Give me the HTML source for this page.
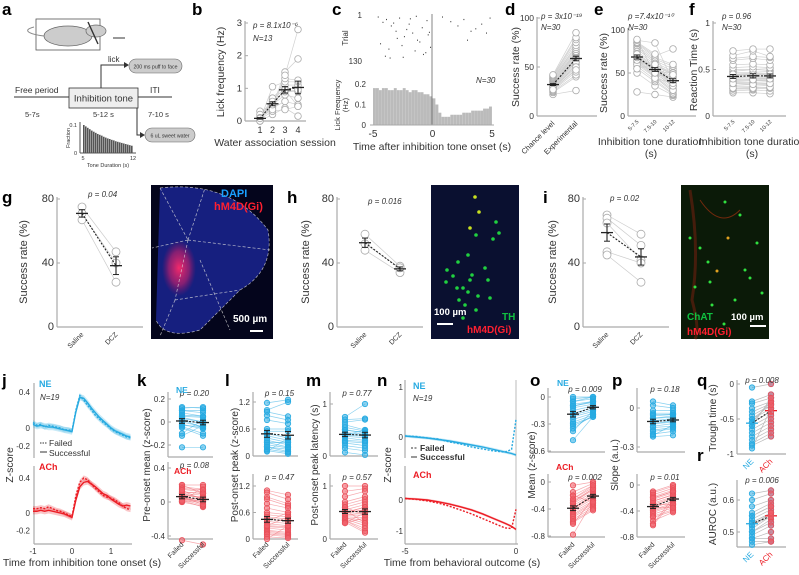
<!DOCTYPE html>
<html><head><meta charset="utf-8"><style>
html,body{margin:0;padding:0;background:#fff}
svg text{font-family:"Liberation Sans",sans-serif}
.L{font-size:17px;font-weight:bold;fill:#000}
.p{font-style:italic;font-size:8px}
</style></head><body>
<svg id="fig" width="799" height="570" viewBox="0 0 799 570" xmlns="http://www.w3.org/2000/svg">
<defs>
<radialGradient id="redblob" cx="0.5" cy="0.5" r="0.5"><stop offset="0" stop-color="#ff2a6a" stop-opacity="0.95"/><stop offset="0.6" stop-color="#d0206a" stop-opacity="0.6"/><stop offset="1" stop-color="#a01060" stop-opacity="0"/></radialGradient>
</defs>
<rect x="0" y="0" width="799" height="570" fill="#fff"/>
</svg>
<script>
// ---------- data ----------
const bSessions=['1','2','3','4'];
const bS1=[0,0.05,0.1,0.3,0,0.05,0.1,0.02,0.2,0.05,0.1,0,0.08];
const bS2=[0.2,0.3,0.4,0.5,0.6,0.65,0.7,1.05,0.55,0.45,0.35,0.6,0.5];
const bS3=[0.4,0.35,0.6,0.8,0.9,1.0,1.1,1.2,1.3,1.5,1.4,0.9,0.95];
const bS4=[0.15,0.45,0.5,0.7,0.9,1.0,1.1,1.2,1.25,1.9,2.8,0.95,0.45];
const cHist=[0.18,0.18,0.17,0.18,0.18,0.17,0.17,0.18,0.17,0.17,0.18,0.17,0.16,0.17,0.17,0.16,0.16,0.15,0.15,0.14,0.13,0.1,0.06,0.04,0.04,0.04,0.05,0.05,0.05,0.05,0.06,0.06,0.06,0.07,0.07,0.07,0.07,0.08,0.08,0.09];
const rasterT=[-4.6,-4.2,-3.9,-3.5,-3.1,-2.8,-2.4,-2.0,-1.7,-1.3,-0.9,-0.5,-0.2,-4.4,-3.7,-3.0,-2.2,-1.5,-0.8,-0.4,-4.0,-3.3,-2.6,-1.9,-1.1,-0.6,-3.6,-2.5,-1.4,-0.3,0.8,1.5,2.1,2.6,3.2,3.6,4.1,4.5,4.8,2.9];
const rasterTrial=[5,20,12,30,45,8,60,25,50,70,35,15,90,80,95,65,40,100,110,55,115,22,85,10,75,105,120,118,3,48,5,18,30,12,45,38,25,50,8,70];
const aHist=[0.1,0.095,0.09,0.085,0.08,0.076,0.072,0.068,0.065,0.062,0.058,0.055,0.052,0.05,0.047,0.045,0.042,0.04,0.038,0.036,0.034,0.032,0.03,0.028,0.026];
const dChance=[22,24,25,26,27,28,28,29,30,30,31,31,32,32,33,33,34,35,35,36,37,38,38,39,40,41,42,30,29,27];
const dExp=[26,40,42,45,48,50,52,53,55,56,57,58,58,60,60,62,63,64,65,66,68,70,72,75,78,80,85,55,50,47];
const eCats=['5-7.5','7.5-10','10-12'];
const e1=[28,50,55,58,60,62,63,64,65,66,67,68,70,70,72,73,75,78,80,82,84,85,86,88,89,60,65,68,72,55];
const e2=[25,35,40,42,45,46,48,50,50,52,53,54,55,55,56,58,60,62,64,66,68,70,72,85,48,52,56,44,50,60];
const e3=[22,24,25,26,28,30,32,34,35,36,38,40,42,44,46,48,50,52,55,58,60,78,30,40,45,50,35,38,42,48];
const f1=[0.25,0.27,0.29,0.3,0.32,0.33,0.35,0.36,0.37,0.38,0.39,0.4,0.41,0.42,0.43,0.44,0.45,0.47,0.48,0.5,0.52,0.55,0.6,0.62,0.65,0.7,0.3,0.35,0.4,0.45];
const f2=[0.25,0.28,0.29,0.31,0.32,0.34,0.35,0.36,0.38,0.38,0.4,0.4,0.42,0.42,0.44,0.45,0.46,0.47,0.5,0.5,0.53,0.56,0.62,0.64,0.7,0.72,0.3,0.34,0.39,0.44];
const f3=[0.24,0.27,0.3,0.3,0.33,0.34,0.35,0.37,0.38,0.39,0.4,0.41,0.41,0.43,0.44,0.45,0.46,0.48,0.49,0.51,0.52,0.55,0.6,0.63,0.64,0.72,0.31,0.35,0.4,0.45];
const gSal=[75,67,71], gDcz=[47,28,40];
const hSal=[58,48,52], hDcz=[38,34,37];
const iSal=[70,68,65,47,45], iDcz=[58,51,42,40,28];
const tJ=[-1,-0.9,-0.8,-0.7,-0.6,-0.5,-0.4,-0.3,-0.2,-0.1,0,0.1,0.2,0.3,0.4,0.5,0.6,0.7,0.8,0.9,1.0,1.1,1.2,1.3,1.4,1.5];
const neSuccJ=[0.04,0.02,0.03,0.02,0.01,0.01,0.0,-0.01,-0.02,-0.03,-0.04,0.18,0.34,0.33,0.28,0.22,0.17,0.12,0.08,0.04,0.0,-0.03,-0.05,-0.07,-0.09,-0.1];
const neFailJ=[0.06,0.03,0.04,0.01,0.03,0.02,0.01,0.0,-0.02,-0.02,-0.03,0.2,0.36,0.31,0.25,0.2,0.14,0.1,0.06,0.03,-0.01,-0.04,-0.06,-0.08,-0.1,-0.11];
const achSuccJ=[0.02,0.02,0.03,0.02,0.03,0.02,0.01,0.0,-0.01,-0.03,-0.05,0.15,0.3,0.35,0.36,0.33,0.3,0.26,0.22,0.2,0.16,0.13,0.1,0.08,0.09,0.08];
const achFailJ=[0.05,0.05,0.06,0.05,0.07,0.05,0.03,0.02,0.0,-0.02,-0.04,0.2,0.35,0.4,0.38,0.33,0.28,0.24,0.2,0.18,0.17,0.15,0.12,0.08,0.05,0.04];
const kNeF=[0.13,0.1,0.08,0.05,0.03,0.02,0,-0.02,-0.04,-0.05,0.12,0.1,0.06,-0.1,-0.12,0.02,0.04,-0.22,-0.03];
const kNeS=[0.12,0.1,0.05,0.04,0,-0.02,-0.04,-0.06,-0.1,-0.12,0.13,0.08,0.05,0.02,-0.03,-0.05,0.0,-0.22,-0.04];
const kAchF=[0.2,0.18,0.15,0.12,0.1,0.08,0.06,0.05,0.04,0.03,0.02,0,0.2,0.16,0.1,0.05,0,0.08,0.12,0.14,0.06,0.02,0.01,-0.45];
const kAchS=[0.2,0.15,0.12,0.1,0.08,0.05,0.02,0,-0.02,-0.04,-0.06,0.18,0.1,0.14,0.04,0.0,-0.05,0.06,0.1,0.02,-0.03,0.05,0.01,-0.5];
const lNeF=[1.18,1.02,0.98,0.9,0.8,0.6,0.55,0.5,0.45,0.4,0.35,0.3,0.25,0.2,0.2,0.15,0.12,0.1,0.3];
const lNeS=[1.25,1.2,0.88,0.8,0.72,0.6,0.55,0.4,0.35,0.3,0.25,0.2,0.18,0.15,0.1,0.08,0.05,0.4,0.3];
const lAchF=[1.1,1.05,0.95,0.9,0.8,0.7,0.6,0.55,0.5,0.45,0.4,0.35,0.3,0.28,0.25,0.2,0.18,0.15,0.12,0.1,0.05,0,0.3,0.4];
const lAchS=[1.0,0.9,0.8,0.75,0.7,0.6,0.55,0.5,0.45,0.4,0.35,0.3,0.28,0.25,0.2,0.15,0.12,0.1,0.08,0.05,0.02,0.3,0.5,0.6];
const mNeF=[0.75,0.7,0.65,0.6,0.55,0.5,0.45,0.42,0.4,0.38,0.35,0.3,0.28,0.25,0.2,0.15,0.07,0.4,0.5];
const mNeS=[1.0,0.72,0.7,0.5,0.48,0.45,0.42,0.4,0.38,0.35,0.3,0.28,0.25,0.2,0.15,0.1,0.02,0.5,0.45];
const mAchF=[1.0,0.9,0.8,0.7,0.65,0.6,0.55,0.5,0.5,0.45,0.45,0.42,0.4,0.4,0.38,0.35,0.35,0.32,0.3,0.3,0.5,0.55,0.6,0.48];
const mAchS=[1.0,0.95,0.9,0.8,0.75,0.7,0.65,0.6,0.55,0.5,0.45,0.4,0.35,0.3,0.25,0.2,0.15,0.12,0.4,0.5,0.6,0.3,0.45,0.55];
const tN=[-5,-4.5,-4,-3.5,-3,-2.5,-2,-1.5,-1,-0.5,-0.2,0];
const neSuccN=[0.02,0.0,-0.02,-0.05,-0.08,-0.12,-0.16,-0.2,-0.25,-0.3,-0.33,-0.36];
const neFailN=[0.02,0.01,-0.02,-0.04,-0.1,-0.14,-0.2,-0.24,-0.28,-0.3,-0.25,0.35];
const achSuccN=[0.05,0.03,0,-0.06,-0.13,-0.22,-0.32,-0.45,-0.6,-0.75,-0.85,-0.95];
const achFailN=[0.05,0.02,-0.03,-0.1,-0.2,-0.32,-0.45,-0.6,-0.75,-0.9,-0.92,-0.3];
const oNeF=[0,-0.02,-0.05,-0.08,-0.1,-0.12,-0.15,-0.18,-0.2,-0.22,-0.25,-0.28,-0.3,-0.32,-0.35,-0.38,-0.48,-0.05,-0.1];
const oNeS=[0,0,-0.02,-0.05,-0.06,-0.08,-0.1,-0.12,-0.14,-0.16,-0.18,-0.2,-0.22,-0.22,-0.2,-0.15,-0.22,0,-0.05];
const oAchF=[-0.05,-0.15,-0.2,-0.25,-0.28,-0.3,-0.32,-0.35,-0.38,-0.4,-0.42,-0.45,-0.48,-0.5,-0.52,-0.55,-0.58,-0.6,-0.62,-0.78,-0.3,-0.25,-0.4,-0.2];
const oAchS=[0,-0.02,-0.05,-0.08,-0.1,-0.12,-0.15,-0.18,-0.2,-0.22,-0.25,-0.28,-0.3,-0.32,-0.35,-0.38,-0.4,-0.42,-0.25,-0.28,-0.1,-0.05,-0.2,-0.3];
const pNeF=[0.05,0.02,-0.02,-0.04,-0.06,-0.08,-0.1,-0.1,-0.12,-0.14,-0.15,-0.17,-0.18,-0.2,-0.22,-0.05,-0.08,-0.12,-0.21];
const pNeS=[0.02,0,-0.02,-0.04,-0.05,-0.06,-0.08,-0.1,-0.11,-0.12,-0.14,-0.15,-0.16,-0.18,-0.21,-0.05,-0.07,-0.1,-0.13];
const pAchF=[-0.1,-0.12,-0.15,-0.18,-0.2,-0.22,-0.25,-0.28,-0.3,-0.32,-0.35,-0.38,-0.4,-0.42,-0.45,-0.48,-0.5,-0.55,-0.6,-0.62,-0.3,-0.25,-0.2,-0.35];
const pAchS=[0,-0.02,-0.05,-0.08,-0.1,-0.12,-0.15,-0.18,-0.2,-0.22,-0.25,-0.28,-0.3,-0.32,-0.35,-0.38,-0.4,-0.42,-0.2,-0.25,-0.3,-0.15,-0.1,-0.35];
const qNe=[-0.05,-0.25,-0.28,-0.35,-0.4,-0.45,-0.5,-0.55,-0.6,-0.65,-0.7,-0.75,-0.8,-0.85,-0.88,-0.92,-0.5,-0.55,-0.6];
const qAch=[0,-0.15,-0.2,-0.25,-0.28,-0.3,-0.35,-0.4,-0.45,-0.5,-0.55,-0.6,-0.65,-0.7,-0.75,-0.35,-0.3,-0.25,-0.2];
const rNe=[0.62,0.6,0.58,0.56,0.55,0.54,0.53,0.52,0.52,0.51,0.5,0.5,0.49,0.48,0.48,0.47,0.46,0.55,0.53];
const rAch=[0.63,0.62,0.6,0.59,0.58,0.57,0.56,0.56,0.55,0.55,0.54,0.53,0.52,0.5,0.48,0.47,0.47,0.58,0.56];

// ---------- helpers ----------
const NS='http://www.w3.org/2000/svg';
const S=document.getElementById('fig');
const BLUE='#27aae1', RED='#ec1c24';
function el(tag,a,name,p){
  const e=document.createElementNS(NS,tag);
  for(const k in a) e.setAttribute(k,a[k]);
  
  
  (p||S).appendChild(e);
  return e;
}
function tx(x,y,s,name,a,p){
  const at=Object.assign({x:x,y:y},a||{});
  if(!at.class){ if(at.fill==null) at.fill='#333'; if(at['font-size']==null) at['font-size']=9; }
  else { if(at.fill==null) at.fill=at.class==='L'?'#000':'#333'; }
  const e=el('text',at,name,p);e.textContent=s;return e;
}
function lin(v0,p0,v1,p1){return v=>p0+(v-v0)*(p1-p0)/(v1-v0);}
function line(x1,y1,x2,y2,name,a,p){return el('line',Object.assign({x1:x1,y1:y1,x2:x2,y2:y2,stroke:'#999','stroke-width':1},a||{}),name,p);}
function yAxis(x,yTop,yBot,ticks,ys,name,fs){
  line(x,yTop,x,yBot,name+'-line',{stroke:'#aaa','stroke-width':1.2});
  ticks.forEach(t=>{
    line(x,ys(t),x+3,ys(t),name+'-tick',{stroke:'#aaa'});
    tx(x-3,ys(t)+3,String(t),name+'-tick-label',{'text-anchor':'end','font-size':fs||8});
  });
}
function xAxis(x0,x1,y,name){line(x0,y,x1,y,name,{stroke:'#aaa','stroke-width':1.2});}
function ylab(x,y,s,name,fs){return tx(x,y,s,name,{'text-anchor':'middle','font-size':fs||10,transform:'rotate(-90 '+x+' '+y+')'});}
function catLabels(xs,labels,y,name,cols,fs){
  xs.forEach((x,i)=>tx(x+2,y,labels[i],name,{'text-anchor':'end','font-size':fs||7,fill:cols?cols[i]:'#333',transform:'rotate(-45 '+(x+2)+' '+y+')'}));
}
function mean(a){return a.reduce((s,v)=>s+v,0)/a.length;}
function sem(a){const m=mean(a);return Math.sqrt(a.reduce((s,v)=>s+(v-m)*(v-m),0)/(a.length-1))/Math.sqrt(a.length);}
function paired(name,xs,ys,groups,st){
  const n=groups[0].length;
  for(let i=0;i<n;i++){
    const pts=groups.map((g,j)=>xs[j]+','+ys(g[i])).join(' ');
    el('polyline',{points:pts,fill:'none',stroke:st.line,'stroke-width':0.7,opacity:st.lineOp||1},name+'-subject-line');
  }
  groups.forEach((g,j)=>g.forEach(v=>{
    el('circle',{cx:xs[j],cy:ys(v),r:st.r,fill:st.fill,'fill-opacity':st.fillOp==null?1:st.fillOp,stroke:st.stroke,'stroke-width':0.8},name+'-point');
  }));
  const ms=groups.map(mean), ss=groups.map(sem);
  el('polyline',{points:ms.map((m,j)=>xs[j]+','+ys(m)).join(' '),fill:'none',stroke:'#222','stroke-width':1.1,'stroke-dasharray':'2,1.5'},name+'-mean-line');
  ms.forEach((m,j)=>{
    const c=st.meanCols?st.meanCols[j]:'#222';
    line(xs[j]-6,ys(m),xs[j]+6,ys(m),name+'-mean',{stroke:c,'stroke-width':1.3});
    line(xs[j],ys(m-ss[j]),xs[j],ys(m+ss[j]),name+'-sem',{stroke:c,'stroke-width':1.1});
    line(xs[j]-3,ys(m-ss[j]),xs[j]+3,ys(m-ss[j]),name+'-sem-cap',{stroke:c,'stroke-width':1});
    line(xs[j]-3,ys(m+ss[j]),xs[j]+3,ys(m+ss[j]),name+'-sem-cap',{stroke:c,'stroke-width':1});
  });
}
const OPEN={r:3.3,fill:'#fff',stroke:'#aaa',line:'#d0d0d0'};
const OPENB={r:4,fill:'#fff',stroke:'#aaa',line:'#ccc'};
const BLU={r:2.7,fill:BLUE,fillOp:0.55,stroke:BLUE,line:BLUE,lineOp:0.55};
const REDS={r:2.7,fill:'#f0606a',fillOp:0.6,stroke:'#e8505a',line:'#f07078',lineOp:0.6};
function letter(x,y,s){tx(x,y,s,'panel-label-'+s,{class:'L'});}

// ---------- panel letters ----------
[['a',2,15],['b',192,15],['c',332,15],['d',505,15],['e',594,15],['f',689,15],['g',2,203],['h',287,203],['i',543,203],['j',2,386],['k',137,386],['l',225,386],['m',306,386],['n',377,386],['o',530,386],['p',612,386],['q',697,386],['r',697,461]].forEach(l=>letter(l[1],l[2],l[0]));

// ---------- panel a: schematic ----------
el('rect',{x:36,y:19,width:64,height:31,fill:'none',stroke:'#555','stroke-width':0.8},'head-fixation-box');
el('ellipse',{cx:68,cy:36,rx:24,ry:10,fill:'#ccc',stroke:'#666','stroke-width':0.7},'rat-body');
el('ellipse',{cx:96,cy:31,rx:10,ry:6,fill:'#ccc',stroke:'#666','stroke-width':0.7},'rat-head');
el('path',{d:'M44,36 C28,34 22,30 34,27',fill:'none',stroke:'#888','stroke-width':1},'rat-tail');
line(88,22,98,44,'head-post',{stroke:'#333','stroke-width':1.4});
line(113,38,125,38,'lick-spout',{stroke:'#333','stroke-width':1});
line(14,97,69,97,'timeline-free',{stroke:'#333'});
el('rect',{x:69,y:88,width:69,height:20,fill:'#eee',stroke:'#333','stroke-width':0.8},'inhibition-tone-box');
tx(103.5,101.5,'Inhibition tone','inhibition-tone-label',{'text-anchor':'middle','font-size':9.5});
line(138,97,172,97,'timeline-iti',{stroke:'#333'});
tx(15,93,'Free period','free-period-label',{'font-size':8.5});
tx(25,117,'5-7s','free-period-duration',{'font-size':7.5});
tx(93,117,'5-12 s','tone-duration',{'font-size':7.5});
tx(150,93,'ITI','iti-label',{'font-size':8.5});
tx(148,117,'7-10 s','iti-duration',{'font-size':7.5});
el('polyline',{points:'101,88 101,65 126,65',fill:'none',stroke:'#333','stroke-width':1},'lick-arrow');
el('path',{d:'M129,65 L124,62 L124,68 Z',fill:'#333'},'lick-arrowhead');
tx(108,62,'lick','lick-label',{'font-size':8});
el('rect',{x:129,y:59,width:53,height:14,rx:7,fill:'#ccc',stroke:'#666','stroke-width':0.6},'puff-pill');
tx(155.5,68.5,'200 ms puff to face','puff-label',{'text-anchor':'middle','font-size':5.2});
el('polyline',{points:'137,108 137,135 141,135',fill:'none',stroke:'#333','stroke-width':1},'reward-arrow');
el('path',{d:'M145,135 L140,132 L140,138 Z',fill:'#333'},'reward-arrowhead');
el('rect',{x:145,y:128,width:50,height:14,rx:7,fill:'#ccc',stroke:'#666','stroke-width':0.6},'reward-pill');
tx(170,137.5,'6 uL sweet water','reward-label',{'text-anchor':'middle','font-size':5.2});
const aX=lin(0,83,25,133), aY=lin(0,153,0.1,125);
line(80,122,80,153,'a-hist-y-axis',{stroke:'#555'});
line(80,153,136,153,'a-hist-x-axis',{stroke:'#555'});
aHist.forEach((v,i)=>el('rect',{x:aX(i),y:aY(v),width:1.6,height:153-aY(v),fill:'#555'},'a-hist-bar'));
tx(77,127,'0.1','a-hist-tick',{'text-anchor':'end','font-size':5.5});
tx(77,155,'0','a-hist-tick',{'text-anchor':'end','font-size':5.5});
tx(83,160,'5','a-hist-tick',{'text-anchor':'middle','font-size':5.5});
tx(133,160,'12','a-hist-tick',{'text-anchor':'middle','font-size':5.5});
tx(108,167,'Tone Duration (s)','a-hist-xlabel',{'text-anchor':'middle','font-size':5.5});
ylab(70,138,'Fraction','a-hist-ylabel',5.5);

// ---------- panel b ----------
const bYs=lin(0,121,3,23), bXs=[260,272.5,285,298];
yAxis(245,21,121,[0,1,2,3],bYs,'b-y-axis',9.5);
xAxis(245,306,121,'b-x-axis');
bXs.forEach((x,i)=>tx(x,133,bSessions[i],'b-x-tick-label',{'text-anchor':'middle','font-size':9}));
paired('b',bXs,bYs,[bS1,bS2,bS3,bS4],OPEN);
tx(253,28,'p = 8.1x10⁻⁶','b-p-value',{class:'p'});
tx(253,41,'N=13','b-n',{class:'p'});
tx(275,146,'Water association session','b-x-title',{'text-anchor':'middle','font-size':10.5});
ylab(224,72,'Lick frequency (Hz)','b-y-title',10.5);

// ---------- panel c ----------
const cX=lin(-5,373,5,492), cTr=lin(1,15,130,61), cY=lin(0,125,0.2,84);
rasterT.forEach((t,i)=>el('rect',{x:cX(t),y:cTr(rasterTrial[i]),width:0.9,height:1.2,fill:'#333'},'c-raster-tick'));
cHist.forEach((v,i)=>el('rect',{x:cX(-5+i*0.25),y:cY(v),width:2.9,height:125-cY(v),fill:'#bbb'},'c-hist-bar'));
line(432,14,432,125,'c-onset-line',{stroke:'#666','stroke-width':0.8});
line(370,125,494,125,'c-x-axis',{stroke:'#aaa'});
tx(362,18,'1','c-trial-tick',{'text-anchor':'end','font-size':8});
tx(362,64,'130','c-trial-tick',{'text-anchor':'end','font-size':8});
ylab(348,38,'Trial','c-trial-title',8);
[[0.2,'0.2'],[0.1,'0.1'],[0,'0']].forEach(t=>tx(366,cY(t[0])+3,t[1],'c-y-tick-label',{'text-anchor':'end','font-size':8}));
ylab(340,105,'Lick Frequency','c-y-title',7.5);
ylab(348,105,'(Hz)','c-y-title-unit',7.5);
[-5,0,5].forEach(t=>tx(cX(t),137,String(t),'c-x-tick-label',{'text-anchor':'middle','font-size':10}));
tx(432,150,'Time after inhibition tone onset (s)','c-x-title',{'text-anchor':'middle','font-size':10.5});
tx(476,83,'N=30','c-n',{class:'p'});

// ---------- panel d ----------
const dYs=lin(0,116,100,18), dXs=[553,576];
yAxis(537,17,116,[0,50,100],dYs,'d-y-axis',8.5);
xAxis(537,597,116,'d-x-axis');
paired('d',dXs,dYs,[dChance,dExp],OPEN);
catLabels(dXs,['Chance level','Experimental'],124,'d-x-tick-label',null,7.5);
tx(541,19,'p = 3x10⁻¹⁹','d-p-value',{class:'p'});
tx(541,30,'N=30','d-n',{class:'p'});
ylab(519,67,'Success rate (%)','d-y-title',10.5);

// ---------- panel e ----------
const eYs=lin(0,116,100,30), eXs=[637,655,673];
yAxis(628,28,116,[0,50,100],eYs,'e-y-axis',8.5);
xAxis(628,696,116,'e-x-axis');
paired('e',eXs,eYs,[e1,e2,e3],OPEN);
catLabels(eXs,eCats,122,'e-x-tick-label',null,5.5);
tx(628,19,'p =7.4x10⁻¹⁰','e-p-value',{class:'p'});
tx(628,30,'N=30','e-n',{class:'p'});
ylab(607,73,'Success rate (%)','e-y-title',10.5);
tx(651,145,'Inhibition tone duration','e-x-title',{'text-anchor':'middle','font-size':10.5});
tx(651,157,'(s)','e-x-title-unit',{'text-anchor':'middle','font-size':10.5});

// ---------- panel f ----------
const fYs=lin(0,116,1,23), fXs=[733,753,770];
yAxis(713,21,116,[0,0.5,1],fYs,'f-y-axis',8.5);
xAxis(713,786,116,'f-x-axis');
paired('f',fXs,fYs,[f1,f2,f3],OPEN);
catLabels(fXs,eCats,122,'f-x-tick-label',null,5.5);
tx(722,19,'p = 0.96','f-p-value',{class:'p'});
tx(722,30,'N=30','f-n',{class:'p'});
ylab(697,70,'Reaction Time (s)','f-y-title',10.5);
tx(752,145,'Inhibition tone duration','f-x-title',{'text-anchor':'middle','font-size':10.5});
tx(752,157,'(s)','f-x-title-unit',{'text-anchor':'middle','font-size':10.5});

// ---------- panels g, h, i ----------
const ghiYs=lin(0,327,80,199);
function drugPlot(nm,x0,xs,sal,dcz,p,px,py,ylx){
  yAxis(x0,197,327,[0,40,80],ghiYs,nm+'-y-axis',11);
  xAxis(x0,x0+86,327,nm+'-x-axis');
  paired(nm,xs,ghiYs,[sal,dcz],OPENB);
  catLabels(xs,['Saline','DCZ'],335,nm+'-x-tick-label',null,7);
  tx(px,py,p,nm+'-p-value',{class:'p'});
  ylab(ylx,262,'Success rate (%)',nm+'-y-title',11);
}
drugPlot('g',57,[82,116],gSal,gDcz,'p = 0.04',88,197,27);
drugPlot('h',337,[365,400],hSal,hDcz,'p = 0.016',368,204,309);
drugPlot('i',583,[607,641],iSal,iDcz,'p = 0.02',610,201,556);

// image g
el('rect',{x:151,y:185,width:122,height:154,fill:'#04051c'},'g-image');
el('path',{d:'M160,188 Q230,180 268,230 Q275,270 240,290 L200,330 Q165,340 156,320 Z',fill:'#1a2590',opacity:0.85},'g-tissue');
el('ellipse',{cx:179,cy:268,rx:17,ry:28,fill:'url(#redblob)'},'g-expression-blob');
[['M160,188 L188,240','a'],['M188,240 L205,188','b'],['M188,240 L270,250','c'],['M188,240 L152,248','d'],['M188,240 L175,300','e'],['M175,300 L240,290','f'],['M175,300 L160,336','g'],['M200,260 L230,330','h'],['M160,188 Q230,180 268,230 Q275,270 240,290 L200,330 Q165,340 156,320','i']].forEach(d=>el('path',{d:d[0],fill:'none',stroke:'#ddd','stroke-width':0.7,'stroke-dasharray':'3,2',opacity:0.8},'g-region-outline'));
tx(221,197,'DAPI','g-dapi-label',{'font-size':11,'font-weight':'bold',fill:'#1aa0ff'});
tx(214,210,'hM4D(Gi)','g-hm4d-label',{'font-size':11,'font-weight':'bold',fill:'#ff2030'});
tx(233,322,'500 µm','g-scale-label',{'font-size':10,'font-weight':'bold',fill:'#fff'});
line(250,331,263,331,'g-scale-bar',{stroke:'#fff','stroke-width':2});
// image h
el('rect',{x:431,y:185,width:88,height:154,fill:'#0a1030'},'h-image');
const hDotsX=[475,479,470,476,496,499,493,468,447,470,463,453,468,478,459,488,465,446,472,485,458,476,490,463,457];
const hDotsY=[197,212,228,235,222,233,239,255,270,280,288,276,292,296,300,280,305,282,275,268,262,310,298,318,288];
hDotsX.forEach((x,i)=>el('circle',{cx:x,cy:hDotsY[i],r:1.8,fill:i<3?'#c8e020':'#20d040'},'h-cell'));
tx(434,315,'100 µm','h-scale-label',{'font-size':9.5,'font-weight':'bold',fill:'#fff'});
line(437,324,453,324,'h-scale-bar',{stroke:'#fff','stroke-width':2});
tx(502,320,'TH','h-th-label',{'font-size':10,'font-weight':'bold',fill:'#10c040'});
tx(467,333,'hM4D(Gi)','h-hm4d-label',{'font-size':10,'font-weight':'bold',fill:'#ff2030'});
// image i
el('rect',{x:681,y:185,width:88,height:154,fill:'#0b1a08'},'i-image');
el('path',{d:'M690,190 Q700,250 692,300 Q700,330 695,339',fill:'none',stroke:'#802010','stroke-width':3,opacity:0.5},'i-red-fibers');
el('path',{d:'M700,200 Q720,230 740,210',fill:'none',stroke:'#a03010','stroke-width':1,opacity:0.7},'i-red-fibers');
const iDotsX=[725,740,690,728,700,757,708,745,717,710,750,695,762,735,712,724];
const iDotsY=[202,215,238,238,248,243,262,270,271,282,278,287,293,300,305,324];
iDotsX.forEach((x,i)=>el('circle',{cx:x,cy:iDotsY[i],r:1.5,fill:(i==3||i==8)?'#e0a020':'#30e040'},'i-cell'));
tx(687,320,'ChAT','i-chat-label',{'font-size':10,'font-weight':'bold',fill:'#10c040'});
tx(731,320,'100 µm','i-scale-label',{'font-size':9.5,'font-weight':'bold',fill:'#fff'});
line(750,326,766,326,'i-scale-bar',{stroke:'#fff','stroke-width':2});
tx(687,335,'hM4D(Gi)','i-hm4d-label',{'font-size':10,'font-weight':'bold',fill:'#ff2030'});

// ---------- panel j ----------
const jX=lin(0,72,1,111), jNe=lin(0,428,0.4,392), jAch=lin(0,513,0.4,478);
function trace(name,t,v,xs,ys,col,dash,band){
  if(band){
    const up=t.map((tt,i)=>xs(tt)+','+ys(v[i]+band)), dn=t.map((tt,i)=>xs(tt)+','+ys(v[i]-band)).reverse();
    el('polygon',{points:up.concat(dn).join(' '),fill:col,opacity:0.25},name+'-band');
  }
  el('polyline',{points:t.map((tt,i)=>xs(tt)+','+ys(v[i])).join(' '),fill:'none',stroke:col,'stroke-width':1.4,'stroke-dasharray':dash||'none'},name);
}
line(34,383,34,458,'j-ne-y-axis',{stroke:'#bbb','stroke-width':1.5});
line(34,466,34,544,'j-ach-y-axis',{stroke:'#bbb','stroke-width':1.5});
xAxis(34,132,544,'j-x-axis');
[[0.4,'0.4'],[0,'0'],[-0.2,'-0.2']].forEach(t=>{tx(30,jNe(t[0])+3,t[1],'j-ne-tick-label',{'text-anchor':'end','font-size':8});tx(30,jAch(t[0])+3,t[1],'j-ach-tick-label',{'text-anchor':'end','font-size':8});});
trace('j-ne-successful',tJ,neSuccJ,jX,jNe,BLUE,null,0.035);
trace('j-ne-failed',tJ,neFailJ,jX,jNe,BLUE,'2,1.5',0.03);
trace('j-ach-successful',tJ,achSuccJ,jX,jAch,RED,null,0.035);
trace('j-ach-failed',tJ,achFailJ,jX,jAch,RED,'2,1.5',0.03);
[-1,0,1].forEach(t=>tx(jX(t),554,String(t),'j-x-tick-label',{'text-anchor':'middle','font-size':8}));
tx(82,566,'Time from inhibition tone onset (s)','j-x-title',{'text-anchor':'middle','font-size':10.5});
ylab(13,465,'Z-score','j-y-title',10.5);
tx(39,387,'NE','j-ne-label',{'font-weight':'bold',fill:BLUE,'font-size':9});
tx(40,400,'N=19','j-n',{class:'p'});
line(40,443,47,443,'j-legend-failed-line',{stroke:'#333','stroke-dasharray':'1.5,1'});
tx(49,446,'Failed','j-legend-failed',{'font-size':8.5});
line(40,452,47,452,'j-legend-successful-line',{stroke:'#333'});
tx(49,456,'Successful','j-legend-successful',{'font-size':8.5});
tx(39,470,'ACh','j-ach-label',{'font-weight':'bold',fill:RED,'font-size':9});

// ---------- k, l, m, o, p ----------
function twoStack(nm,x0,xs,right,neYs,neTicks,neTop,neBot,achYs,achTicks,achTop,achBot,neF,neS,achF,achS,pNe,pAch,ytitle,ytx){
  yAxis(x0,neTop,neBot,neTicks,neYs,nm+'-ne-y-axis',8);
  xAxis(x0,right,neBot,nm+'-ne-x-axis');
  yAxis(x0,achTop,achBot,achTicks,achYs,nm+'-ach-y-axis',8);
  xAxis(x0,right,achBot,nm+'-ach-x-axis');
  paired(nm+'-ne',xs,neYs,[neF,neS],BLU);
  paired(nm+'-ach',xs,achYs,[achF,achS],REDS);
  tx((xs[0]+xs[1])/2+2,neTop+4,pNe,nm+'-ne-p-value',{class:'p','text-anchor':'middle'});
  tx((xs[0]+xs[1])/2+2,achTop+6,pAch,nm+'-ach-p-value',{class:'p','text-anchor':'middle'});
  catLabels(xs,['Failed','Successful'],545,nm+'-x-tick-label',null,7);
  ylab(ytx,465,ytitle,nm+'-y-title',10);
}
twoStack('k',168,[182,203],213,lin(0,422,0.2,399),[0.2,0,-0.2],392,457,lin(0,502,0.4,468),[0.4,0,-0.4],462,539,kNeF,kNeS,kAchF,kAchS,'p = 0.20','p = 0.08','Pre-onset mean (z-score)',150);
tx(176,393,'NE','k-ne-label',{'font-weight':'bold',fill:BLUE,'font-size':8.5});
tx(174,474,'ACh','k-ach-label',{'font-weight':'bold',fill:RED,'font-size':8.5});
twoStack('l',253,[267,288],298,lin(0,456,1.2,402),[0,0.6,1.2],392,456,lin(0,539,1.2,486),[0,0.6,1.2],474,539,lNeF,lNeS,lAchF,lAchS,'p = 0.15','p = 0.47','Post-onset peak (z-score)',238);
twoStack('m',330,[345,365],378,lin(0,456,1,404),[0,1],392,456,lin(0,539,1,486),[0,1],474,539,mNeF,mNeS,mAchF,mAchS,'p = 0.77','p = 0.57','Post-onset peak latency (s)',318);
twoStack('o',548,[573,593],605,lin(0,397,-0.3,424),[0,-0.3,-0.6],388,452,lin(0,482,-0.4,509),[0,-0.4,-0.8],474,537,oNeF,oNeS,oAchF,oAchS,'p = 0.009','p = 0.002','Mean (z-score)',535);
tx(557,386,'NE','o-ne-label',{'font-weight':'bold',fill:BLUE,'font-size':8.5});
tx(556,470,'ACh','o-ach-label',{'font-weight':'bold',fill:RED,'font-size':8.5});
twoStack('p',637,[653,673],685,lin(0,408,-0.3,447),[0,-0.3],388,452,lin(0,485,-0.4,511),[0,-0.4,-0.8],474,537,pNeF,pNeS,pAchF,pAchS,'p = 0.18','p = 0.01','Slope (a.u.)',618);

// ---------- panel n ----------
const nX=lin(-5,405,0,516), nNe=lin(0,437,1,387), nAch=lin(0,500,-1,531);
line(405,380,405,458,'n-ne-y-axis',{stroke:'#bbb','stroke-width':1.5});
line(405,466,405,544,'n-ach-y-axis',{stroke:'#bbb','stroke-width':1.5});
line(516,380,516,544,'n-outcome-line',{stroke:'#bbb','stroke-width':1});
xAxis(405,518,544,'n-x-axis');
trace('n-ne-successful',tN,neSuccN,nX,nNe,BLUE,null,0.03);
trace('n-ne-failed',tN,neFailN,nX,nNe,BLUE,'2,1.5',0);
trace('n-ach-successful',tN,achSuccN,nX,nAch,RED,null,0.04);
trace('n-ach-failed',tN,achFailN,nX,nAch,RED,'2,1.5',0);
[[1,'1'],[0,'0']].forEach(t=>tx(403,nNe(t[0])+3,t[1],'n-ne-tick-label',{'text-anchor':'end','font-size':8}));
[[0,'0'],[-1,'-1']].forEach(t=>tx(403,nAch(t[0])+3,t[1],'n-ach-tick-label',{'text-anchor':'end','font-size':8}));
[-5,0].forEach(t=>tx(nX(t),554,String(t),'n-x-tick-label',{'text-anchor':'middle','font-size':8}));
tx(462,566,'Time from behavioral outcome (s)','n-x-title',{'text-anchor':'middle','font-size':10.5});
ylab(391,465,'Z-score','n-y-title',10.5);
tx(413,389,'NE','n-ne-label',{'font-weight':'bold',fill:BLUE,'font-size':9});
tx(413,401,'N=19','n-n',{class:'p'});
line(411,448,417,448,'n-legend-failed-line',{stroke:'#333','stroke-dasharray':'2,1.5'});
tx(420,451,'Failed','n-legend-failed',{'font-size':8.5,'font-weight':'bold'});
line(411,457,417,457,'n-legend-successful-line',{stroke:'#333'});
tx(420,460,'Successful','n-legend-successful',{'font-size':8.5,'font-weight':'bold'});
tx(413,478,'ACh','n-ach-label',{'font-weight':'bold',fill:RED,'font-size':9});

// ---------- panels q, r ----------
const qYs=lin(0,384,-1,454), qXs=[752,771];
const QST={r:2.7,fill:BLUE,fillOp:0.55,stroke:BLUE,line:'#bbb',meanCols:[BLUE,RED]};
yAxis(737,380,454,[0,-0.5,-1],qYs,'q-y-axis',8);
xAxis(737,786,454,'q-x-axis');
paired('q',qXs,qYs,[qNe,qAch],QST);
qAch.forEach(v=>el('circle',{cx:qXs[1],cy:qYs(v),r:2.7,fill:'#f0606a','fill-opacity':0.6,stroke:'#e8505a','stroke-width':0.8},'q-ach-point'));
catLabels(qXs,['NE','ACh'],462,'q-x-tick-label',[BLUE,RED],8);
tx(762,383,'p = 0.008','q-p-value',{class:'p','text-anchor':'middle'});
ylab(716,418,'Trough time (s)','q-y-title',10);
const rYs=lin(0.5,532,0.6,500);
yAxis(737,480,547,[0.5,0.6],rYs,'r-y-axis',8);
xAxis(737,786,547,'r-x-axis');
paired('r',qXs,rYs,[rNe,rAch],QST);
rAch.forEach(v=>el('circle',{cx:qXs[1],cy:rYs(v),r:2.7,fill:'#f0606a','fill-opacity':0.6,stroke:'#e8505a','stroke-width':0.8},'r-ach-point'));
catLabels(qXs,['NE','ACh'],555,'r-x-tick-label',[BLUE,RED],8);
tx(762,483,'p = 0.006','r-p-value',{class:'p','text-anchor':'middle'});
ylab(716,514,'AUROC (a.u.)','r-y-title',10);
</script>
</body></html>
